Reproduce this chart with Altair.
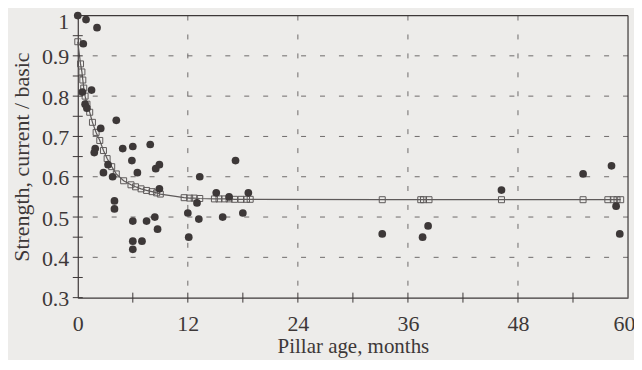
import altair as alt
import pandas as pd

# measured points (pillar age in months, strength ratio)
dot_t = [0.0, 0.9, 2.1, 0.6, 0.5, 1.5, 0.8, 1.0, 4.2, 2.5, 1.9, 1.8, 4.9, 6.0, 7.9,
         5.9, 3.3, 8.9, 8.5, 2.8, 3.8, 6.5, 8.9, 4.0, 4.0, 6.0, 7.5, 8.4, 8.7, 6.0,
         7.0, 6.0, 12.0, 12.1, 13.0, 13.2, 13.3, 15.1, 15.8, 16.5, 17.2, 18.0, 18.6,
         33.2, 37.6, 38.2, 46.2, 55.1, 58.2, 58.7, 59.1]
dot_v = [1.00, 0.99, 0.97, 0.93, 0.81, 0.815, 0.78, 0.77, 0.74, 0.72, 0.67, 0.66, 0.67, 0.675, 0.68,
         0.64, 0.63, 0.63, 0.62, 0.61, 0.60, 0.61, 0.57, 0.54, 0.52, 0.49, 0.49, 0.50, 0.47, 0.44,
         0.44, 0.42, 0.51, 0.45, 0.535, 0.495, 0.60, 0.56, 0.50, 0.55, 0.64, 0.51, 0.56,
         0.458, 0.45, 0.478, 0.567, 0.607, 0.627, 0.527, 0.458]

# model curve (squares joined by a line)
model_t = [0.0, 0.3, 0.45, 0.55, 0.65, 0.8, 1.0, 1.3, 1.6, 2.0, 2.4, 2.8, 3.2, 3.7, 4.2,
           5.0, 5.8, 6.3, 6.9, 7.5, 8.1, 8.6, 9.0, 11.6, 12.2, 12.7, 13.3, 14.9, 15.4,
           16.0, 16.5, 17.1, 17.8, 18.4, 18.8, 33.2, 37.4, 37.7, 38.3, 46.2, 55.1, 57.8,
           58.4, 58.8, 59.2]
model_v = [0.935, 0.88, 0.86, 0.84, 0.82, 0.80, 0.78, 0.76, 0.735, 0.71, 0.69, 0.665, 0.645, 0.625, 0.607,
           0.59, 0.58, 0.575, 0.57, 0.566, 0.563, 0.56, 0.557, 0.548, 0.547, 0.547, 0.546, 0.545, 0.545,
           0.545, 0.545, 0.544, 0.544, 0.544, 0.544, 0.543, 0.543, 0.543, 0.543, 0.543, 0.543, 0.543,
           0.543, 0.543, 0.543]

y_major = [0.3, 0.4, 0.5, 0.6, 0.7, 0.8, 0.9, 1.0]
y_all_ticks = [0.3, 0.35, 0.4, 0.45, 0.5, 0.55, 0.6, 0.65, 0.7, 0.75, 0.8, 0.85, 0.9, 0.95]
y_grid = [0.4, 0.5, 0.6, 0.7, 0.8, 0.9]
x_major = [0, 12, 24, 36, 48, 60]
x_all_ticks = [6, 12, 18, 24, 30, 36, 42, 48, 54]
x_grid = [12, 24, 36, 48]

INK = "#3d3838"
GRID = "#6e6a6a"
FONT = "Liberation Serif"

dots = pd.DataFrame({"t": dot_t, "v": dot_v})
model = pd.DataFrame({"t": model_t, "v": model_v, "i": list(range(len(model_t)))})

xs = alt.Scale(domain=[0, 60], nice=False, zero=False)
ys = alt.Scale(domain=[0.3, 1.0], nice=False, zero=False)

xaxis = alt.Axis(values=x_major, title="Pillar age, months", ticks=False, grid=False,
                 labelFont=FONT, labelFontSize=22, labelColor=INK, labelPadding=16,
                 labelOffset={"condition": {"test": "datum.value == 60", "value": -4}, "value": 0},
                 titleFont=FONT, titleFontSize=21, titleColor=INK, titleFontWeight="normal",
                 titlePadding=1, domainColor=INK, domainWidth=1.2, labelFlush=False)
yaxis = alt.Axis(values=y_major, title="Strength, current / basic", ticks=False, grid=False,
                 labelExpr="datum.value == 1 ? '1' : format(datum.value, '.1f')",
                 labelFont=FONT, labelFontSize=22, labelColor=INK, labelPadding=9,
                 labelBaseline="alphabetic",
                 labelOffset={"condition": {"test": "datum.value == 1", "value": 13}, "value": 8},
                 titleFont=FONT, titleFontSize=22, titleColor=INK, titleFontWeight="normal",
                 titlePadding=8, domainColor=INK, domainWidth=1.2, labelFlush=False)

X = lambda f: alt.X(f, scale=xs, axis=xaxis)
Y = lambda f: alt.Y(f, scale=ys, axis=yaxis)

ygrid = alt.Chart(pd.DataFrame({"v": y_grid})).mark_rule(
    color=GRID, strokeWidth=1, strokeDash=[5, 14]).encode(y=Y("v:Q"))
xgrid = alt.Chart(pd.DataFrame({"t": x_grid})).mark_rule(
    color=GRID, strokeWidth=1, strokeDash=[5, 14]).encode(x=X("t:Q"))

yticks = alt.Chart(pd.DataFrame({"v": y_all_ticks})).mark_rule(
    color=INK, strokeWidth=1).encode(y=Y("v:Q"), x=alt.value(-5), x2=alt.value(5))
xticks = alt.Chart(pd.DataFrame({"t": x_all_ticks})).mark_rule(
    color=INK, strokeWidth=1).encode(x=X("t:Q"), y=alt.value(278), y2=alt.value(288))

frame_top = alt.Chart(pd.DataFrame({"k": [0]})).mark_rule(color=INK, strokeWidth=1.2).encode(
    x=alt.value(0), x2=alt.value(552), y=alt.value(0))
frame_right = alt.Chart(pd.DataFrame({"k": [0]})).mark_rule(color=INK, strokeWidth=1.2).encode(
    x=alt.value(552), y=alt.value(0), y2=alt.value(283))

line = alt.Chart(model).mark_line(color="#5e5a5a", strokeWidth=1.2).encode(
    x=X("t:Q"), y=Y("v:Q"), order="i:Q")
squares = alt.Chart(model).mark_point(shape="square", filled=False, color="#5e5a5a",
                                      size=36, strokeWidth=1, opacity=1).encode(
    x=X("t:Q"), y=Y("v:Q"))

points = alt.Chart(dots).mark_circle(color=INK, size=60, opacity=1).encode(
    x=X("t:Q"), y=Y("v:Q"))

chart = alt.layer(ygrid, xgrid, line, squares, points, yticks, xticks,
                  frame_top, frame_right).properties(
    width=552, height=283,
    autosize=alt.AutoSizeParams(type="none"),
    padding={"left": 70, "top": 7, "right": 6, "bottom": 62},
    background="#edecea",
).configure(font=FONT).configure_view(stroke=None)

chart.save("out.html", embed_options={"renderer": "svg", "actions": False})
